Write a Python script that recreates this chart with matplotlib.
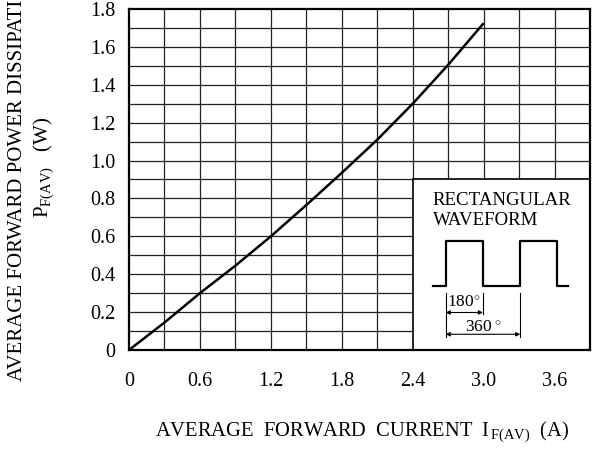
import matplotlib
matplotlib.use("Agg")
import matplotlib.pyplot as plt
from matplotlib.patches import Rectangle

plt.rcParams['font.family'] = ['Liberation Serif', 'DejaVu Serif']
plt.rcParams['mathtext.fontset'] = 'custom'
plt.rcParams['mathtext.rm'] = 'Liberation Serif'
plt.rcParams['mathtext.it'] = 'Liberation Serif:italic'

# Data
current = [0, 0.3, 0.6, 0.9, 1.2, 1.5, 1.8, 2.1, 2.4, 2.7, 3.0]
power = [0, 0.145, 0.30, 0.445, 0.60, 0.765, 0.935, 1.11, 1.30, 1.505, 1.725]
xticks = [0, 0.6, 1.2, 1.8, 2.4, 3.0, 3.6]
xtick_labels = ["0", "0.6", "1.2", "1.8", "2.4", "3.0", "3.6"]
yticks = [0, 0.2, 0.4, 0.6, 0.8, 1.0, 1.2, 1.4, 1.6, 1.8]
ytick_labels = ["0", "0.2", "0.4", "0.6", "0.8", "1.0", "1.2", "1.4", "1.6", "1.8"]

# inset waveform sketch (in data units of the inset area)
wave_x = [2.572, 2.679, 2.679, 2.994, 2.994, 3.310, 3.310, 3.620, 3.620, 3.713]
wave_y = [0.336, 0.336, 0.573, 0.573, 0.336, 0.336, 0.573, 0.573, 0.336, 0.336]

fig = plt.figure(figsize=(5.97, 4.51), dpi=100)
ax = fig.add_axes([129/597, 1-350/451, (590-129)/597, (350-9)/451])
ax.set_xlim(0, 3.9)
ax.set_ylim(0, 1.8)

gc = '#222222'
for i in range(1, 13):
    ax.axvline(i*0.3, color=gc, lw=0.9, zorder=1)
for i in range(1, 18):
    ax.axhline(i*0.1, color=gc, lw=0.9, zorder=1)

ax.add_patch(Rectangle((2.4, 0), 1.5, 0.9, facecolor='white', edgecolor='black', lw=1.2, zorder=2))

ax.plot(current, power, color='black', lw=1.8, zorder=4, solid_capstyle='butt')

ax.set_xticks(xticks)
ax.set_xticklabels(xtick_labels)
ax.set_yticks(yticks)
ax.set_yticklabels(ytick_labels)
ax.tick_params(length=0, labelsize=14.5)
ax.tick_params(axis='x', pad=16)
ax.tick_params(axis='y', pad=10)
for s in ax.spines.values():
    s.set_linewidth(1.6)
    s.set_zorder(5)

# inset content
ax.text(2.569, 0.765, "RECTANGULAR", fontsize=13.6, ha='left', va='baseline', zorder=6)
ax.text(2.569, 0.659, "WAVEFORM", fontsize=13.6, ha='left', va='baseline', zorder=6)
ax.plot(wave_x, wave_y, color='black', lw=1.6, zorder=6)
ax.plot([2.679, 2.679], [0.07, 0.30], color='black', lw=0.8, zorder=6)
ax.plot([2.994, 2.994], [0.19, 0.30], color='black', lw=0.8, zorder=6)
ax.plot([3.310, 3.310], [0.07, 0.30], color='black', lw=0.8, zorder=6)
ax.annotate('', xy=(2.679, 0.198), xytext=(2.994, 0.198),
            arrowprops=dict(arrowstyle='<|-|>', color='black', lw=0.8, mutation_scale=6, shrinkA=0, shrinkB=0), zorder=6)
ax.annotate('', xy=(2.679, 0.083), xytext=(3.310, 0.083),
            arrowprops=dict(arrowstyle='<|-|>', color='black', lw=0.8, mutation_scale=6, shrinkA=0, shrinkB=0), zorder=6)
ax.text(2.83, 0.225, r"180$^{\circ}$", fontsize=12.5, ha='center', va='baseline', zorder=6)
ax.text(3.0, 0.097, r"360$^{\,\circ}$", fontsize=12.5, ha='center', va='baseline', zorder=6)

# axis labels
fig.text(362/597, 1-432/451, r"AVERAGE  FORWARD  CURRENT  I$_{\,\mathrm{F(AV)}}$  (A)", fontsize=14.8,
         ha='center', va='center')
fig.text(18/597, 1-175/451, "AVERAGE FORWARD POWER DISSIPATION", fontsize=15,
         rotation=90, ha='center', va='center')
fig.text(44/597, 1-167/451, r"P$_{\mathrm{F(AV)}}$   (W)", fontsize=15,
         rotation=90, ha='center', va='center')

fig.savefig("out.png", dpi=100)
